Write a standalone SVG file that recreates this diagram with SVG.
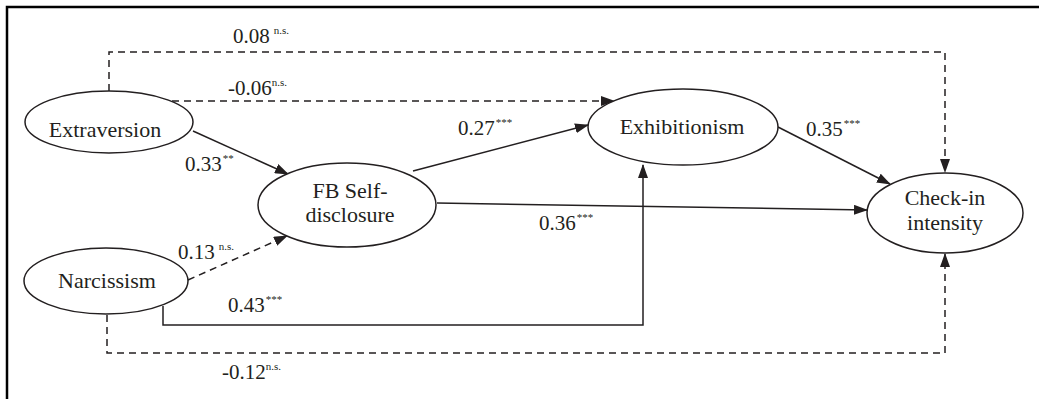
<svg xmlns="http://www.w3.org/2000/svg" width="1039" height="399" viewBox="0 0 1039 399">
<style>
.n{fill:#fff;stroke:#231f20;stroke-width:1.5}
.t{font-size:22px;fill:#231f20;text-anchor:middle}
.l{font-size:21px;fill:#231f20}
.s{font-size:11px}
.c{fill:none;stroke:#231f20;stroke-width:1.5}
.d{stroke-dasharray:7 5}
</style>
<defs>
<marker id="a" markerWidth="14" markerHeight="10" refX="13" refY="5" orient="auto" markerUnits="userSpaceOnUse">
<path d="M0,0 L14,5 L0,10 Z" fill="#231f20"/>
</marker>
</defs>
<rect width="1039" height="399" fill="#fff"/>
<path d="M7,399 V7 H1039" fill="none" stroke="#000" stroke-width="2.5"/>
<g id="connectors">
<path class="c d" d="M109,91 V52 H945 V172" marker-end="url(#a)"/>
<path class="c d" d="M172,101 H614" marker-end="url(#a)"/>
<path class="c" d="M193,131 L288,174" marker-end="url(#a)"/>
<path class="c" d="M413,171 L588,125" marker-end="url(#a)"/>
<path class="c" d="M778,127 L890,184" marker-end="url(#a)"/>
<path class="c" d="M437,203 L867,210" marker-end="url(#a)"/>
<path class="c d" d="M188,280 L287,236" marker-end="url(#a)"/>
<path class="c" d="M163,306 V325 H643 V165" marker-end="url(#a)"/>
<path class="c d" d="M107,315 V353 H945 V254" marker-end="url(#a)"/>
</g>
<g id="labels" font-family="Liberation Serif, Times New Roman, DejaVu Serif, serif">
<text class="l" x="233" y="43">0.08<tspan class="s" dx="4" dy="-9">n.s.</tspan></text>
<text class="l" x="228" y="95">-0.06<tspan class="s" dy="-9">n.s.</tspan></text>
<text class="l" x="185" y="171">0.33<tspan class="s" dx="1" dy="-9">**</tspan></text>
<text class="l" x="458" y="135">0.27<tspan class="s" dx="1" dy="-9">***</tspan></text>
<text class="l" x="806" y="136">0.35<tspan class="s" dx="1" dy="-9">***</tspan></text>
<text class="l" x="539" y="230">0.36<tspan class="s" dx="1" dy="-9">***</tspan></text>
<text class="l" x="178" y="259">0.13<tspan class="s" dx="4" dy="-9">n.s.</tspan></text>
<text class="l" x="228" y="312">0.43<tspan class="s" dx="1" dy="-9">***</tspan></text>
<text class="l" x="222" y="379">-0.12<tspan class="s" dy="-9">n.s.</tspan></text>
</g>
<g font-family="Liberation Serif, Times New Roman, DejaVu Serif, serif">
<g id="extraversion"><ellipse class="n" cx="109" cy="122" rx="84" ry="31"/><text class="t" x="105" y="137">Extraversion</text></g>
<g id="fb"><ellipse class="n" cx="347" cy="205" rx="89" ry="42"/><text class="t" x="350" y="198">FB Self-</text><text class="t" x="350" y="222">disclosure</text></g>
<g id="narcissism"><ellipse class="n" cx="106" cy="281" rx="82" ry="33"/><text class="t" x="107" y="288">Narcissism</text></g>
<g id="exhibitionism"><ellipse class="n" cx="683" cy="127" rx="95" ry="38"/><text class="t" x="682" y="134">Exhibitionism</text></g>
<g id="checkin"><ellipse class="n" cx="945" cy="213" rx="78" ry="40"/><text class="t" x="945" y="205">Check-in</text><text class="t" x="945" y="230">intensity</text></g>
</g>
</svg>
